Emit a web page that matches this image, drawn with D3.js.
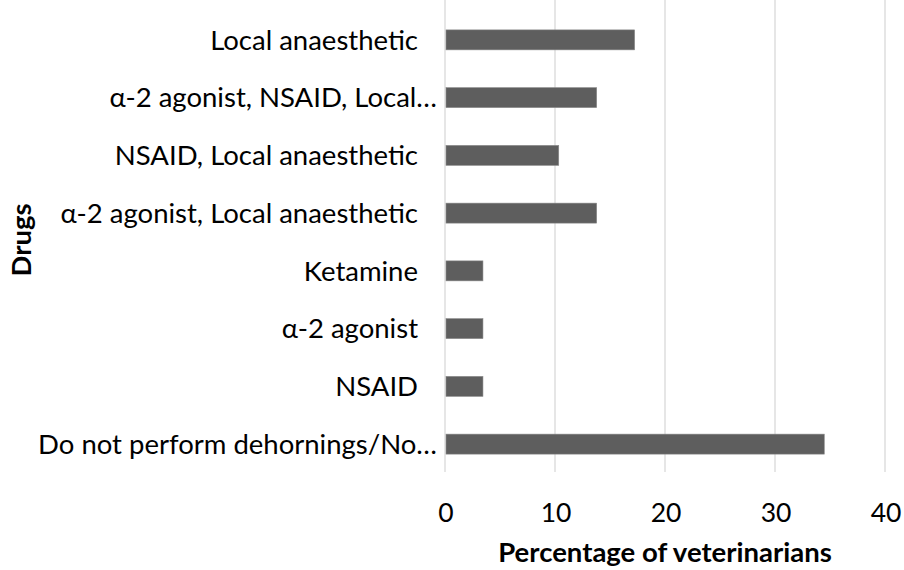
<!DOCTYPE html>
<html>
<head>
<meta charset="utf-8">
<script src="https://cdn.jsdelivr.net/npm/d3@7"></script>
<style>
  html, body { margin: 0; padding: 0; background: #fff; }
  svg { display: block; }
  text { font-family: Lato, "Open Sans", sans-serif; fill: #000; }
</style>
</head>
<body>
<svg id="chart" width="904" height="570"></svg>
<script>
const categories = [
  "Local anaesthetic",
  "α-2 agonist, NSAID, Local…",
  "NSAID, Local anaesthetic",
  "α-2 agonist, Local anaesthetic",
  "Ketamine",
  "α-2 agonist",
  "NSAID",
  "Do not perform dehornings/No…"
];
const values = [17.24, 13.79, 10.34, 13.79, 3.45, 3.45, 3.45, 34.48];
const xTicks = [0, 10, 20, 30, 40];
const xTitle = "Percentage of veterinarians";
const yTitle = "Drugs";

const svg = d3.select("#chart");
const plot = { left: 445, right: 885, top: 11, bottom: 473 };

const x = d3.scaleLinear().domain([0, 40]).range([plot.left, plot.right]);
const y = d3.scaleBand().domain(categories).range([plot.top, plot.bottom]).paddingInner(0.654).paddingOuter(0.327);

// gridlines
svg.append("g").selectAll("line").data(xTicks).join("line")
  .attr("x1", d => x(d)).attr("x2", d => x(d))
  .attr("y1", 0).attr("y2", 472)
  .attr("stroke", "#d9d9d9").attr("stroke-width", 1.3);

// bars
svg.append("g").selectAll("rect").data(values).join("rect")
  .attr("x", x(0) + 1)
  .attr("y", (d, i) => y(categories[i]))
  .attr("width", d => x(d) - x(0) - 1)
  .attr("height", y.bandwidth())
  .attr("fill", "#5e5e5e")
  .attr("stroke", "#8a8a8a").attr("stroke-width", 0.6);

// category labels
svg.append("g").selectAll("text").data(categories).join("text")
  .attr("x", d => d.endsWith("…") ? 437 : 418)
  .attr("y", d => y(d) + y.bandwidth() / 2)
  .attr("dy", "0.35em")
  .attr("text-anchor", "end")
  .attr("font-size", 27.5)
  .text(d => d);

// x tick labels
svg.append("g").selectAll("text").data(xTicks).join("text")
  .attr("x", d => x(d) + 1)
  .attr("y", 522)
  .attr("text-anchor", "middle")
  .attr("font-size", 26.5)
  .text(d => d);

// axis titles
svg.append("text")
  .attr("x", 665).attr("y", 562)
  .attr("text-anchor", "middle")
  .attr("font-size", 27.5).attr("font-weight", "bold")
  .text(xTitle);

svg.append("text")
  .attr("transform", "translate(31,240) rotate(-90)")
  .attr("text-anchor", "middle")
  .attr("font-size", 27.5).attr("font-weight", "bold")
  .text(yTitle);
</script>
</body>
</html>
